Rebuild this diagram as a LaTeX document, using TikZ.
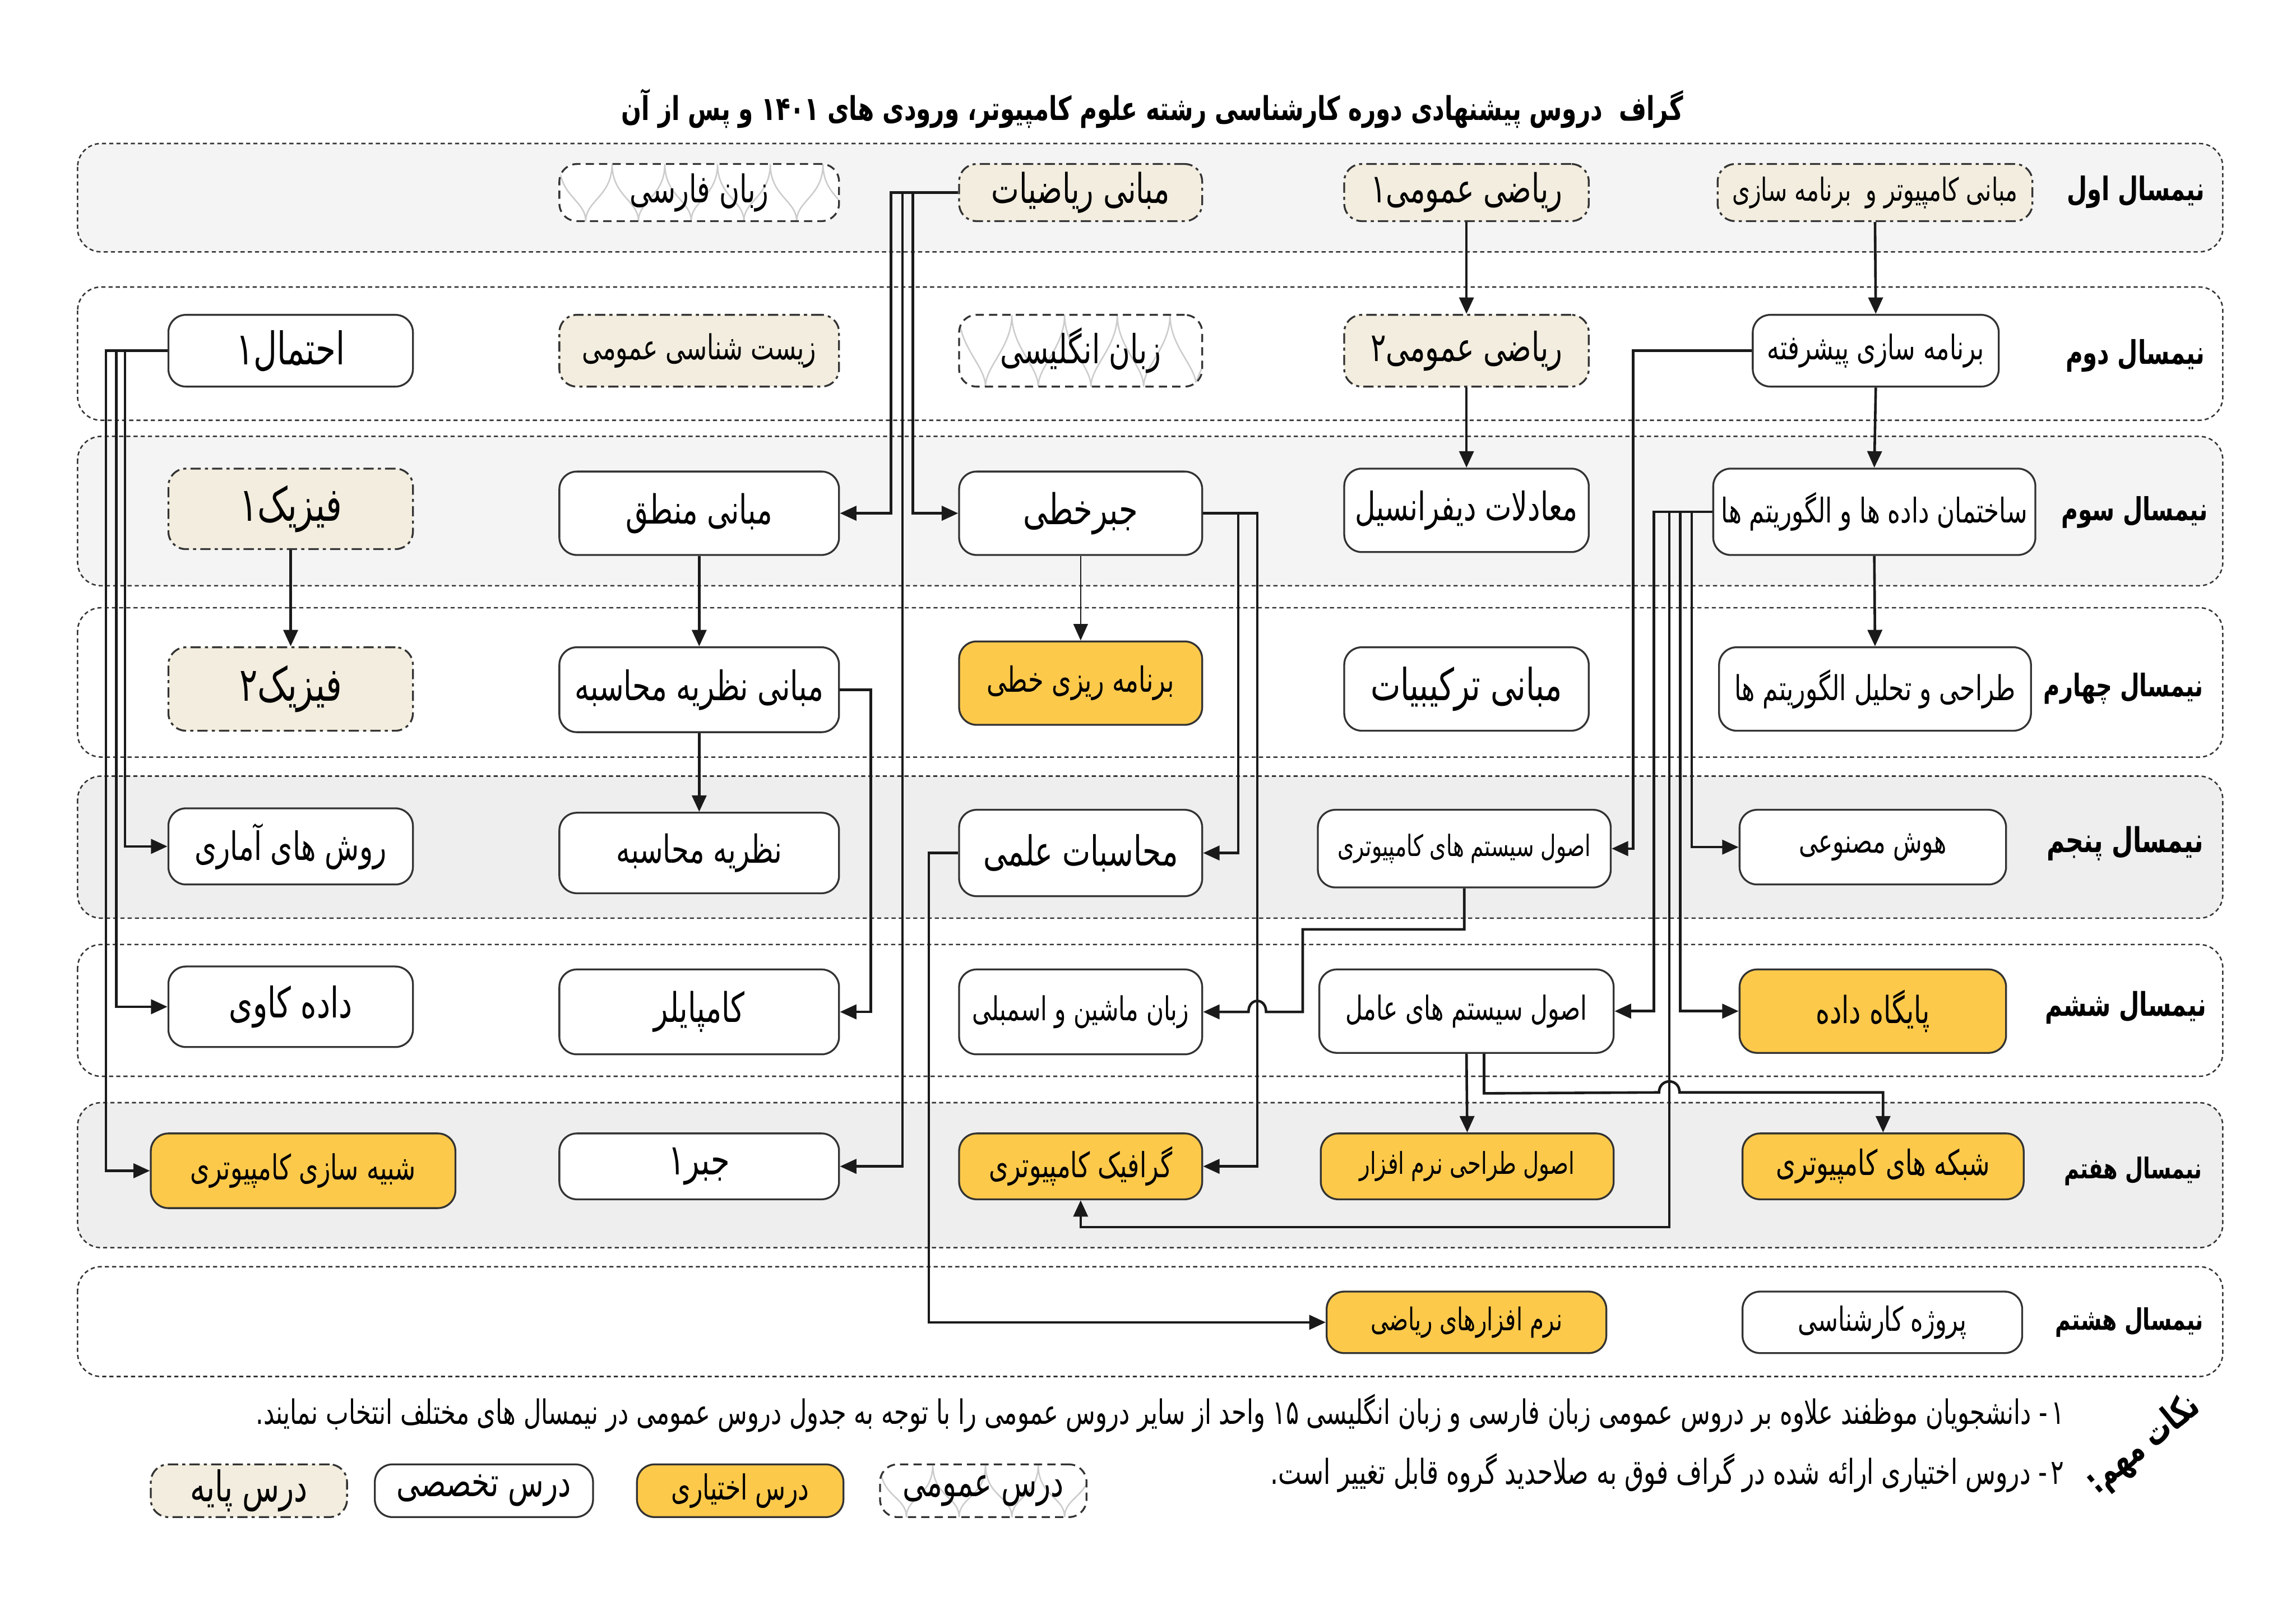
\documentclass[tikz,border=0pt]{standalone}
\usepackage{fontspec}
\usepackage{graphicx}
\usetikzlibrary{arrows.meta,calc}
\TeXXeTstate=1
\newfontfamily\faf[Script=Arabic,FakeStretch=0.72]{DejaVu Sans}
\newlength\pxu \setlength\pxu{0.025cm}
\newcommand\fa[2]{\resizebox{#1\pxu}{!}{\faf\beginR #2\endR}}
\newcommand\fb[2]{\resizebox{#1\pxu}{!}{\faf\bfseries\beginR #2\endR}}
\newcommand\crs[8]{\node[#1, minimum width={(#5-#3)*\pxu}, minimum height={(#6-#4)*\pxu}] (#2) at ({(#3+#5)/2},{(#4+#6)/2}) {\fa{#7}{#8}};}
\definecolor{bd}{HTML}{333333}
\definecolor{ylw}{HTML}{FDC94B}
\definecolor{bge}{HTML}{F2EDDE}
\definecolor{bgA}{HTML}{F4F4F4}
\definecolor{bgB}{HTML}{EEEEEE}
\definecolor{ln}{HTML}{1A1A1A}
\tikzset{
 box/.style={draw=bd, line width=0.9pt, rounded corners=0.3cm, inner sep=0pt, align=center},
 tak/.style={box, fill=white},
 ekh/.style={box, fill=ylw},
 paye/.style={box, fill=bge, dash pattern=on 5pt off 2pt on 1.5pt off 2pt},
 omu/.style={box, fill=white, dash pattern=on 4pt off 2.5pt, path picture={
   \foreach \i in {0,...,9}{
    \draw[solid, sharp corners, line width=0.7pt, draw=black!20]
     ($(path picture bounding box.north west)+(\i*0.9cm,0cm)$) .. controls +(0cm,-0.55cm) and +(0cm,0.35cm) .. ($(path picture bounding box.south west)+(\i*0.9cm+0.45cm,0cm)$)
     ($(path picture bounding box.north west)+(\i*0.9cm,0cm)$) .. controls +(0cm,-0.55cm) and +(0cm,0.35cm) .. ($(path picture bounding box.south west)+(\i*0.9cm-0.45cm,0cm)$);
   }}},
 band/.style={draw=bd, line width=0.7pt, dash pattern=on 2pt off 1.5pt, rounded corners=0.4cm},
 con/.style={line width=1.25pt, draw=ln, -{Triangle[length=8pt,width=7pt]}},
 sem/.style={anchor=east, inner sep=0pt},
}
\begin{document}
\begin{tikzpicture}[x=0.025cm,y=-0.025cm]
\fill[white] (0,0) rectangle (1568,1108.7);
\useasboundingbox (0,0) rectangle (1568,1108.7);
% bands
\draw[band, fill=bgA] (53,98) rectangle (1518,172);
\draw[band, fill=white] (53,196) rectangle (1518,287);
\draw[band, fill=bgA] (53,298) rectangle (1518,400);
\draw[band, fill=white] (53,415) rectangle (1518,517);
\draw[band, fill=bgB] (53,530) rectangle (1518,627);
\draw[band, fill=white] (53,645) rectangle (1518,735);
\draw[band, fill=bgB] (53,753) rectangle (1518,852);
\draw[band, fill=white] (53,865) rectangle (1518,940);
% title
\node[inner sep=0pt] (title) at (787,74) {\fb{725}{گراف\ \ دروس پیشنهادی دوره کارشناسی رشته علوم کامپیوتر، ورودی های ۱۴۰۱ و پس از آن}};
% semester labels
\node[sem] (s1) at (1506,131) {\fb{94}{نیمسال اول}};
\node[sem] (s2) at (1506,243) {\fb{95}{نیمسال دوم}};
\node[sem] (s3) at (1508,350) {\fb{100}{نیمسال سوم}};
\node[sem] (s4) at (1505,470) {\fb{109}{نیمسال چهارم}};
\node[sem] (s5) at (1505,576) {\fb{107}{نیمسال پنجم}};
\node[sem] (s6) at (1507,688) {\fb{110}{نیمسال ششم}};
\node[sem] (s7) at (1504,800) {\fb{94}{نیمسال هفتم}};
\node[sem] (s8) at (1505,903) {\fb{101}{نیمسال هشتم}};
% band 1
\crs{paye}{mk}{1173}{112}{1388}{151}{195}{مبانی کامپیوتر و\ \ برنامه سازی}
\crs{paye}{ro1}{918}{112}{1085}{151}{131}{ریاضی عمومی۱}
\crs{paye}{mr}{655}{112}{821}{151}{122}{مبانی ریاضیات}
\crs{omu}{zf}{382}{112}{573}{151}{95}{زبان فارسی}
% band 2
\crs{tak}{bp}{1197}{215}{1365}{264}{148}{برنامه سازی پیشرفته}
\crs{paye}{ro2}{918}{215}{1085}{264}{131}{ریاضی عمومی۲}
\crs{omu}{ze}{655}{215}{821}{264}{110}{زبان انگلیسی}
\crs{paye}{zs}{382}{215}{573}{264}{160}{زیست شناسی عمومی}
\crs{tak}{eh}{115}{215}{282}{264}{74}{احتمال۱}
% band 3
\crs{tak}{sd}{1170}{320}{1390}{379}{209}{ساختمان داده ها و الگوریتم ها}
\crs{tak}{md}{918}{320}{1085}{377}{152}{معادلات دیفرانسیل}
\crs{tak}{jk}{655}{322}{821}{379}{78}{جبرخطی}
\crs{tak}{mn}{382}{322}{573}{379}{100}{مبانی منطق}
\crs{paye}{f1}{115}{320}{282}{375}{70}{فیزیک۱}
% band 4
\crs{tak}{ta}{1174}{442}{1387}{499}{192}{طراحی و تحلیل الگوریتم ها}
\crs{tak}{mt}{918}{442}{1085}{499}{131}{مبانی ترکیبیات}
\crs{ekh}{blp}{655}{438}{821}{495}{128}{برنامه ریزی خطی}
\crs{tak}{mnm}{382}{442}{573}{500}{170}{مبانی نظریه محاسبه}
\crs{paye}{f2}{115}{442}{282}{499}{70}{فیزیک۲}
% band 5
\crs{tak}{ai}{1188}{553}{1370}{604}{101}{هوش مصنوعی}
\crs{tak}{osk}{900}{553}{1100}{606}{173}{اصول سیستم های کامپیوتری}
\crs{tak}{ms}{655}{553}{821}{612}{133}{محاسبات علمی}
\crs{tak}{nm}{382}{555}{573}{610}{113}{نظریه محاسبه}
\crs{tak}{ra}{115}{552}{282}{604}{131}{روش های آماری}
% band 6
\crs{ekh}{db}{1188}{662}{1370}{719}{78}{پایگاه داده}
\crs{tak}{os}{901}{662}{1102}{719}{165}{اصول سیستم های عامل}
\crs{tak}{asm}{655}{662}{821}{720}{148}{زبان ماشین و اسمبلی}
\crs{tak}{cp}{382}{662}{573}{720}{62}{کامپایلر}
\crs{tak}{dk}{115}{660}{282}{715}{84}{داده کاوی}
% band 7
\crs{ekh}{net}{1190}{774}{1382}{819}{146}{شبکه های کامپیوتری}
\crs{ekh}{nrm}{902}{774}{1102}{819}{147}{اصول طراحی نرم افزار}
\crs{ekh}{gr}{655}{774}{821}{819}{125}{گرافیک کامپیوتری}
\crs{tak}{jb1}{382}{774}{573}{819}{42}{جبر۱}
\crs{ekh}{sh}{103}{774}{311}{825}{154}{شبیه سازی کامپیوتری}
% band 8
\crs{tak}{pk}{1190}{882}{1381}{924}{115}{پروژه کارشناسی}
\crs{ekh}{nr}{906}{882}{1097}{924}{131}{نرم افزارهای ریاضی}
% connectors
\draw[con] (mk.south) -- (bp.north);
\draw[con] (ro1.south) -- (ro2.north);
\draw[con] (ro2.south) -- (md.north);
\draw[con] (bp.south) -- (sd.north);
\draw[con] (sd.south) -- (ta.north);
\draw[con] (bp.west) -- ++(-81,0) |- (osk.east);
\draw[con] (sd.west) -- ++(-40,0) |- (os.east);
\draw[con] (sd.west) -| (1140,838) -| (gr.south);
\draw[con] (sd.west) -- ++(-22,0) |- (db.west);
\draw[con] (sd.west) -- ++(-14,0) |- (ai.west);
\draw[con] (osk.south) -- ++(0,28) -| ($(asm.east)+(68,0)$) -- ($(asm.east)+(43,0)$) .. controls +(0,-10) and +(0,-10) .. ($(asm.east)+(31,0)$) -- (asm.east);
\draw[con] (os.south) -- (nrm.north);
\draw[con] ($(os.south)+(12,0)$) -- ++(0,27) -- (1133,746) .. controls +(0,-10) and +(0,-10) .. (1147,746) -| (net.north);
\draw[con] (mr.west) -- ++(-46,0) |- (mn.east);
\draw[con] (mr.west) -- ++(-38,0) |- (jb1.east);
\draw[con] (mr.west) -- ++(-31,0) |- (jk.west);
\draw[con] (jk.east) -- ++(24,0) |- (ms.east);
\draw[con] (jk.east) -- ++(37,0) |- (gr.east);
\draw[con, line width=0.7pt] (jk.south) -- (blp.north);
\draw[con] (mn.south) -- (mnm.north);
\draw[con] (mnm.south) -- (nm.north);
\draw[con] (mnm.east) -- ++(21,0) |- (cp.east);
\draw[con] (f1.south) -- (f2.north);
\draw[con] (eh.west) -- ++(-29,0) |- (ra.west);
\draw[con] (eh.west) -- ++(-35,0) |- (dk.west);
\draw[con] (eh.west) -- ++(-42,0) |- (sh.west);
\draw[con] (ms.west) -- ++(-20,0) |- (nr.west);
% notes
\node[rotate=39, inner sep=0pt] (nk) at (1464,987) {\fb{92}{نکات مهم:}};
\node[anchor=east, inner sep=0pt] (n1) at (1410,965) {\fa{1235}{۱\kern1pt-\ دانشجویان موظفند علاوه بر دروس عمومی زبان فارسی و زبان انگلیسی ۱۵ واحد از سایر دروس عمومی را با توجه به جدول دروس عمومی در نیمسال های مختلف انتخاب نمایند.}};
\node[anchor=east, inner sep=0pt] (n2) at (1410,1006) {\fa{542}{۲\kern1pt-\ دروس اختیاری ارائه شده در گراف فوق به صلاحدید گروه قابل تغییر است.}};
% legend
\crs{paye}{lp}{103}{1000}{237}{1036}{80}{درس پایه}
\crs{tak}{lt}{256}{1000}{405}{1036}{119}{درس تخصصی}
\crs{ekh}{le}{435}{1000}{576}{1036}{94}{درس اختیاری}
\crs{omu}{lo}{601}{1000}{742}{1036}{110}{درس عمومی}
\end{tikzpicture}
\end{document}
